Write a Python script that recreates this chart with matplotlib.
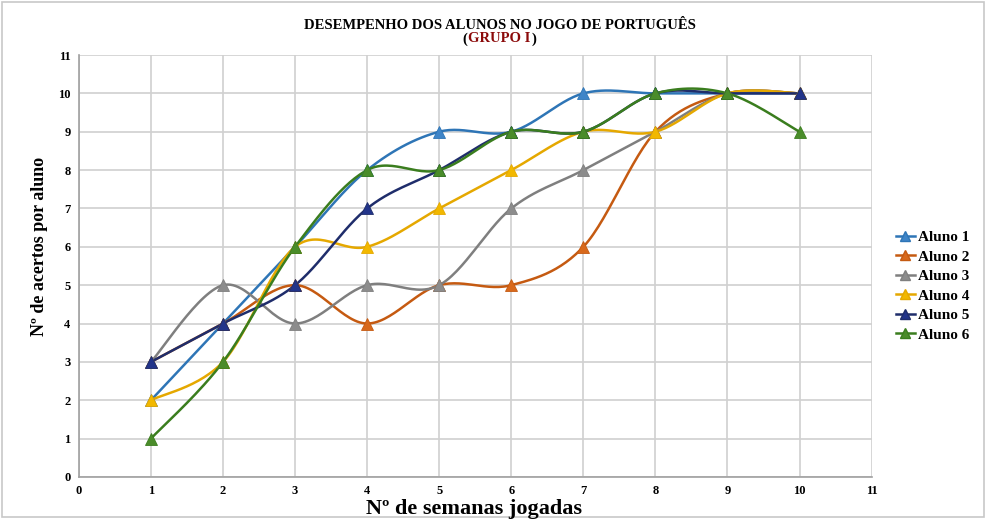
import numpy as np
import matplotlib
matplotlib.use("Agg")
import matplotlib.pyplot as plt
from matplotlib.lines import Line2D

semanas = [1, 2, 3, 4, 5, 6, 7, 8, 9, 10]
aluno1 = [2, 4, 6, 8, 9, 9, 10, 10, 10, 10]
aluno2 = [3, 4, 5, 4, 5, 5, 6, 9, 10, 10]
aluno3 = [3, 5, 4, 5, 5, 7, 8, 9, 10, 10]
aluno4 = [2, 3, 6, 6, 7, 8, 9, 9, 10, 10]
aluno5 = [3, 4, 5, 7, 8, 9, 9, 10, 10, 10]
aluno6 = [1, 3, 6, 8, 8, 9, 9, 10, 10, 9]

nomes = ["Aluno 1", "Aluno 2", "Aluno 3", "Aluno 4", "Aluno 5", "Aluno 6"]
cores = ["#2E75B6", "#C55A11", "#7F7F7F", "#E5A800", "#1F2D6B", "#3A7D1E"]
cores_marc = ["#3F85C8", "#D8691C", "#8C8C8C", "#F2B800", "#22348A", "#4A8C2A"]


def suavizar(x, y, n=30):
    # curva suave tipo Excel (Catmull-Rom)
    x = np.asarray(x, float)
    y = np.asarray(y, float)
    px = np.concatenate([[x[0]], x, [x[-1]]])
    py = np.concatenate([[y[0]], y, [y[-1]]])
    xs, ys = [], []
    t = np.linspace(0, 1, n)
    for i in range(1, len(px) - 2):
        p0, p1, p2, p3 = px[i - 1], px[i], px[i + 1], px[i + 2]
        q0, q1, q2, q3 = py[i - 1], py[i], py[i + 1], py[i + 2]
        b1x, b1y = p1 + (p2 - p0) / 6, q1 + (q2 - q0) / 6
        b2x, b2y = p2 - (p3 - p1) / 6, q2 - (q3 - q1) / 6
        bx = (1 - t) ** 3 * p1 + 3 * (1 - t) ** 2 * t * b1x + 3 * (1 - t) * t ** 2 * b2x + t ** 3 * p2
        by = (1 - t) ** 3 * q1 + 3 * (1 - t) ** 2 * t * b1y + 3 * (1 - t) * t ** 2 * b2y + t ** 3 * q2
        xs.extend(bx)
        ys.extend(by)
    return xs, ys


plt.rcParams['font.family'] = ['Liberation Serif', 'DejaVu Serif']
plt.rcParams['font.weight'] = 'bold'

fig = plt.figure(figsize=(9.86, 5.19), dpi=100)
ax = fig.add_axes([0.080, 0.081, 0.804, 0.813])

series = [aluno1, aluno2, aluno3, aluno4, aluno5, aluno6]
handles = []
for nome, vals, c, cm in zip(nomes, series, cores, cores_marc):
    xs, ys = suavizar(semanas, vals)
    ax.plot(xs, ys, color=c, lw=1.8, zorder=3)
    ax.plot(semanas, vals, ls="none", marker="^", ms=9, color=cm,
            markeredgecolor=c, markeredgewidth=0.6, zorder=4)
    handles.append(Line2D([0], [0], color=c, lw=1.8, marker="^", ms=7,
                          markerfacecolor=cm, markeredgecolor=c, label=nome))

ax.set_xlim(0, 11)
ax.set_ylim(0, 11)
ax.set_xticks(range(0, 12))
ax.set_yticks(range(0, 12))
ax.tick_params(labelsize=9, length=0, pad=6)
for lab in ax.get_xticklabels() + ax.get_yticklabels():
    lab.set_fontweight('bold')
ax.grid(True, color="#D0D0D0", lw=1.2)
ax.set_axisbelow(True)
for s in ["top", "right"]:
    ax.spines[s].set_visible(False)
for s in ["left", "bottom"]:
    ax.spines[s].set_color("#A0A0A0")
    ax.spines[s].set_linewidth(1.2)

fig.text(0.481, 0.020, "Nº de semanas jogadas", ha="center", va="center",
         fontsize=16, fontweight='bold')
fig.text(0.040, 0.526, "Nº de acertos por aluno", ha="center", va="center",
         rotation=90, fontsize=13, fontweight='bold')

fig.text(0.507, 0.950, "DESEMPENHO DOS ALUNOS NO JOGO DE PORTUGUÊS",
         ha="center", va="center", fontsize=10.5, fontweight='bold')
fig.text(0.474, 0.925, "(", ha="right", va="center", fontsize=10.5, fontweight='bold')
fig.text(0.475, 0.925, "GRUPO I", ha="left", va="center", fontsize=10.5,
         fontweight='bold', color="#8B0A0A")
fig.text(0.539, 0.925, ")", ha="left", va="center", fontsize=10.5, fontweight='bold')

fig.legend(handles=handles, loc="center left", bbox_to_anchor=(0.909, 0.449),
           frameon=False, handlelength=1.2, handletextpad=0.25, borderaxespad=0,
           borderpad=0, labelspacing=0.38, prop={'weight': 'bold', 'size': 11})

# moldura externa
fig.patches.append(plt.Rectangle((0.002, 0.004), 0.996, 0.992, transform=fig.transFigure,
                                 fill=False, edgecolor="#C8C8C8", lw=1.2))

fig.savefig("out.png", dpi=100)
